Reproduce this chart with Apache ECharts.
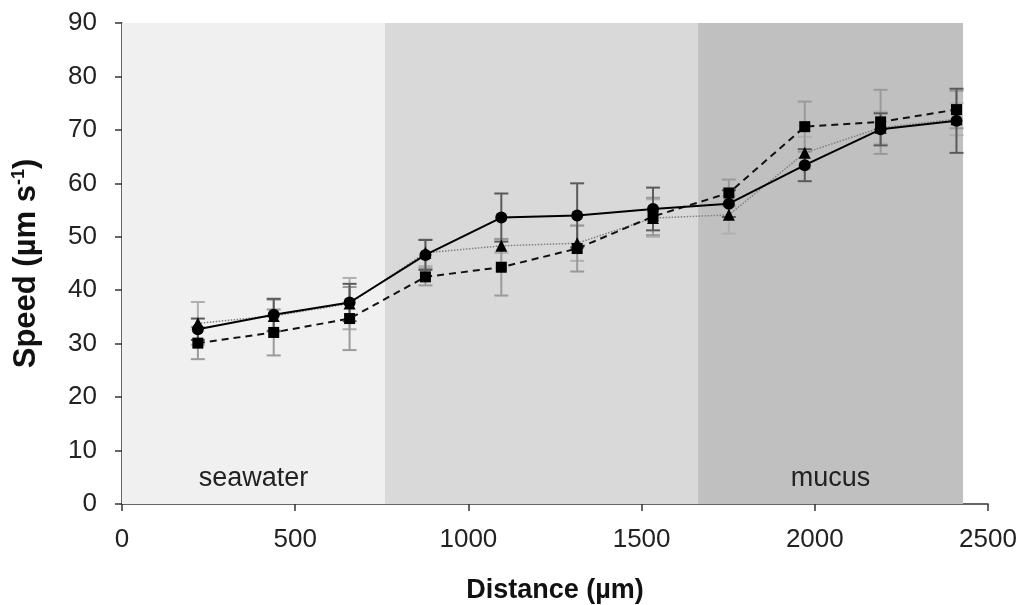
<!DOCTYPE html>
<html>
<head>
<meta charset="utf-8">
<script src="https://cdn.jsdelivr.net/npm/echarts@6/dist/echarts.min.js"></script>
<style>
html,body{margin:0;padding:0;background:#fff;}
#c{width:1022px;height:605px;}
</style>
</head>
<body>
<div id="c"></div>
<script>
// ---- data ----
const distances = [219, 438, 657, 876, 1095, 1314, 1533, 1752, 1971, 2190, 2409];
const circleVals = [32.7, 35.4, 37.7, 46.6, 53.6, 54.0, 55.2, 56.2, 63.4, 70.1, 71.7];
const circleErr  = [2.0, 3.0, 3.5, 2.8, 4.5, 6.0, 4.0, 2.5, 3.0, 3.0, 6.0];
const triVals    = [33.8, 35.2, 37.5, 47.0, 48.3, 48.8, 53.5, 54.1, 65.7, 70.4, 72.0];
const triErr     = [4.0, 3.0, 4.8, 2.5, 1.3, 3.3, 3.5, 3.5, 3.0, 3.0, 3.0];
const sqVals     = [30.1, 32.1, 34.7, 42.5, 44.3, 47.8, 53.8, 58.2, 70.6, 71.5, 73.8];
const sqErr      = [3.0, 4.3, 5.9, 1.6, 5.3, 4.3, 3.5, 2.5, 4.7, 6.0, 3.5];
const bandNames  = ['seawater', '', 'mucus'];
const bandStarts = [0, 759, 1663];
const bandEnds   = [759, 1663, 2428];
const bandColors = ['#f0f0f0', '#d9d9d9', '#c0c0c0'];
const xTicks = {min: 0, max: 2500, interval: 500};
const yTicks = {min: 0, max: 90, interval: 10};

const FONT = "'Liberation Sans', Arial, Helvetica, sans-serif";

function pairs(vals) { return distances.map((d, i) => [d, vals[i]]); }
function errData(vals, errs) { return distances.map((d, i) => [d, vals[i], errs[i]]); }

function errSeries(vals, errs, color, z) {
  return {
    type: 'custom',
    silent: true,
    z: z,
    data: errData(vals, errs),
    encode: {x: 0, y: 1},
    renderItem: function (params, api) {
      const x = api.value(0), y = api.value(1), e = api.value(2);
      const top = api.coord([x, y + e]);
      const bot = api.coord([x, y - e]);
      const hw = 7;
      const st = {stroke: color, lineWidth: 2};
      return {
        type: 'group',
        children: [
          {type: 'line', shape: {x1: top[0], y1: top[1], x2: bot[0], y2: bot[1]}, style: st},
          {type: 'line', shape: {x1: top[0] - hw, y1: top[1], x2: top[0] + hw, y2: top[1]}, style: st},
          {type: 'line', shape: {x1: bot[0] - hw, y1: bot[1], x2: bot[0] + hw, y2: bot[1]}, style: st}
        ]
      };
    }
  };
}

const chart = echarts.init(document.getElementById('c'));
chart.setOption({
  animation: false,
  backgroundColor: '#ffffff',
  grid: {left: 122, right: 34, top: 23, bottom: 101, containLabel: false, outerBoundsMode: 'none'},
  xAxis: {
    type: 'value', min: xTicks.min, max: xTicks.max, interval: xTicks.interval,
    name: 'Distance (µm)', nameLocation: 'middle', nameGap: 73,
    nameTextStyle: {fontFamily: FONT, fontSize: 27, fontWeight: 'bold', color: '#111'},
    axisLine: {lineStyle: {color: '#333', width: 1.5}},
    axisTick: {show: true, length: 7, lineStyle: {color: '#333', width: 1.5}},
    axisLabel: {fontFamily: FONT, fontSize: 26, color: '#222', margin: 23,
      formatter: v => String(v)},
    splitLine: {show: false}
  },
  yAxis: {
    type: 'value', min: yTicks.min, max: yTicks.max, interval: yTicks.interval,
    name: 'Speed (µm s{sup|-1})', nameLocation: 'middle', nameGap: 80, nameRotate: 90,
    nameTextStyle: {fontFamily: FONT, fontSize: 31, fontWeight: 'bold', color: '#111',
      rich: {sup: {fontFamily: FONT, fontSize: 18, fontWeight: 'bold', color: '#111', padding: [0, 0, 14, 0]}}},
    axisLine: {show: true, lineStyle: {color: '#333', width: 1.5}},
    axisTick: {show: true, length: 7, lineStyle: {color: '#333', width: 1.5}},
    axisLabel: {fontFamily: FONT, fontSize: 26, color: '#222', margin: 25,
      formatter: v => String(v)},
    splitLine: {show: false}
  },
  series: [
    {
      type: 'line', data: [], silent: true, z: 0,
      markArea: {
        silent: true,
        data: bandNames.map((n, i) => [
          {xAxis: bandStarts[i], yAxis: yTicks.min, itemStyle: {color: bandColors[i]},
           label: {show: !!n, formatter: n, position: 'insideBottom', distance: 12,
                   fontFamily: FONT, fontSize: 27, color: '#222'}},
          {xAxis: bandEnds[i], yAxis: yTicks.max}
        ])
      }
    },
    errSeries(triVals, triErr, '#b0b0b0', 1),
    errSeries(sqVals, sqErr, '#9a9a9a', 2),
    errSeries(circleVals, circleErr, '#5a5a5a', 3),
    {
      type: 'line', data: pairs(triVals), z: 4,
      symbol: 'triangle', symbolSize: 12, showSymbol: true,
      lineStyle: {color: '#808080', width: 1.5, type: 'dotted'},
      itemStyle: {color: '#000'}
    },
    {
      type: 'line', data: pairs(sqVals), z: 5,
      symbol: 'rect', symbolSize: 11, showSymbol: true,
      lineStyle: {color: '#111', width: 2, type: [7, 5]},
      itemStyle: {color: '#000'}
    },
    {
      type: 'line', data: pairs(circleVals), z: 6,
      symbol: 'circle', symbolSize: 12, showSymbol: true,
      lineStyle: {color: '#000', width: 2, type: 'solid'},
      itemStyle: {color: '#000'}
    }
  ]
});
</script>
</body>
</html>
